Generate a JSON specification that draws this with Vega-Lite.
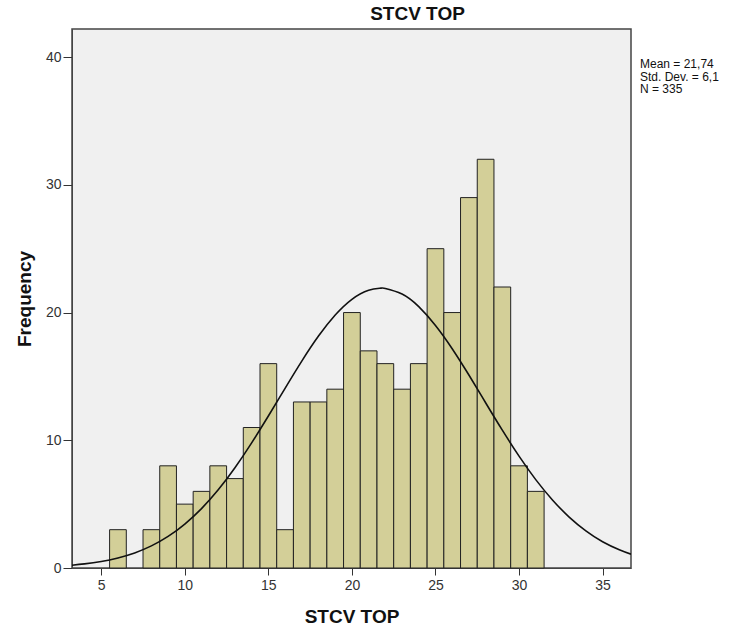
{
  "$schema": "https://vega.github.io/schema/vega-lite/v6.json",
  "width": 559,
  "height": 539,
  "autosize": "none",
  "padding": {"left": 72, "top": 29, "right": 108, "bottom": 63},
  "background": "white",
  "config": {
    "font": "Liberation Sans",
    "view": {"fill": "#F0F0F0", "stroke": "#444444", "strokeWidth": 1.5},
    "axis": {"grid": false, "labelFont": "Liberation Sans", "titleFont": "Liberation Sans", "labelColor": "#333333", "titleColor": "#111111", "tickColor": "#333333", "domainColor": "#444444", "labelFontSize": 14, "titleFontSize": 19, "titleFontWeight": "bold"}
  },
  "title": {"text": "STCV TOP", "fontSize": 19, "fontWeight": "bold", "font": "Liberation Sans", "color": "#111111", "dx": 66, "offset": 5},
  "datasets": {
    "bins": [
      {"value": 6, "start": 5.5, "end": 6.5, "count": 3},
      {"value": 8, "start": 7.5, "end": 8.5, "count": 3},
      {"value": 9, "start": 8.5, "end": 9.5, "count": 8},
      {"value": 10, "start": 9.5, "end": 10.5, "count": 5},
      {"value": 11, "start": 10.5, "end": 11.5, "count": 6},
      {"value": 12, "start": 11.5, "end": 12.5, "count": 8},
      {"value": 13, "start": 12.5, "end": 13.5, "count": 7},
      {"value": 14, "start": 13.5, "end": 14.5, "count": 11},
      {"value": 15, "start": 14.5, "end": 15.5, "count": 16},
      {"value": 16, "start": 15.5, "end": 16.5, "count": 3},
      {"value": 17, "start": 16.5, "end": 17.5, "count": 13},
      {"value": 18, "start": 17.5, "end": 18.5, "count": 13},
      {"value": 19, "start": 18.5, "end": 19.5, "count": 14},
      {"value": 20, "start": 19.5, "end": 20.5, "count": 20},
      {"value": 21, "start": 20.5, "end": 21.5, "count": 17},
      {"value": 22, "start": 21.5, "end": 22.5, "count": 16},
      {"value": 23, "start": 22.5, "end": 23.5, "count": 14},
      {"value": 24, "start": 23.5, "end": 24.5, "count": 16},
      {"value": 25, "start": 24.5, "end": 25.5, "count": 25},
      {"value": 26, "start": 25.5, "end": 26.5, "count": 20},
      {"value": 27, "start": 26.5, "end": 27.5, "count": 29},
      {"value": 28, "start": 27.5, "end": 28.5, "count": 32},
      {"value": 29, "start": 28.5, "end": 29.5, "count": 22},
      {"value": 30, "start": 29.5, "end": 30.5, "count": 8},
      {"value": 31, "start": 30.5, "end": 31.5, "count": 6}
    ],
    "curve": [
      {"x": 3.25, "y": 0.22}, {"x": 4, "y": 0.32}, {"x": 5, "y": 0.51}, {"x": 6, "y": 0.79},
      {"x": 7, "y": 1.18}, {"x": 8, "y": 1.73}, {"x": 9, "y": 2.47}, {"x": 10, "y": 3.44},
      {"x": 11, "y": 4.65}, {"x": 12, "y": 6.12}, {"x": 13, "y": 7.85}, {"x": 14, "y": 9.80},
      {"x": 15, "y": 11.90}, {"x": 16, "y": 14.07}, {"x": 17, "y": 16.20}, {"x": 18, "y": 18.16},
      {"x": 19, "y": 19.81}, {"x": 20, "y": 21.04}, {"x": 21, "y": 21.75}, {"x": 21.74, "y": 21.91},
      {"x": 22, "y": 21.89}, {"x": 23, "y": 21.45}, {"x": 24, "y": 20.46}, {"x": 25, "y": 18.99},
      {"x": 26, "y": 17.17}, {"x": 27, "y": 15.11}, {"x": 28, "y": 12.94}, {"x": 29, "y": 10.79},
      {"x": 30, "y": 8.76}, {"x": 31, "y": 6.92}, {"x": 32, "y": 5.33}, {"x": 33, "y": 3.99},
      {"x": 34, "y": 2.91}, {"x": 35, "y": 2.06}, {"x": 36, "y": 1.43}, {"x": 36.7, "y": 1.08}
    ],
    "stats": [
      {"label": ["Mean = 21,74", "Std. Dev. = 6,1", "N = 335"], "x": 36.7, "y": 39.45}
    ]
  },
  "layer": [
    {
      "data": {"name": "bins"},
      "mark": {"type": "rect", "fill": "#D3CF98", "stroke": "#222222", "strokeWidth": 1},
      "encoding": {
        "x": {"field": "start", "type": "quantitative", "scale": {"domain": [3.25, 36.7], "nice": false, "zero": false},
              "axis": {"values": [5, 10, 15, 20, 25, 30, 35], "title": "STCV TOP", "titlePadding": 15, "labelPadding": 3, "tickSize": 7}},
        "x2": {"field": "end"},
        "y": {"field": "count", "type": "quantitative", "scale": {"domain": [0, 42.2], "nice": false},
              "axis": {"values": [0, 10, 20, 30, 40], "title": "Frequency", "titlePadding": 11, "labelPadding": 2, "tickSize": 9}},
        "y2": {"datum": 0}
      }
    },
    {
      "data": {"name": "curve"},
      "mark": {"type": "line", "color": "#111111", "strokeWidth": 1.6, "interpolate": "natural", "clip": true},
      "encoding": {
        "x": {"field": "x", "type": "quantitative"},
        "y": {"field": "y", "type": "quantitative"}
      }
    },
    {
      "data": {"name": "stats"},
      "mark": {"type": "text", "align": "left", "baseline": "middle", "dx": 9, "fontSize": 12, "lineHeight": 12.5, "color": "#111111", "font": "Liberation Sans", "clip": false},
      "encoding": {
        "x": {"field": "x", "type": "quantitative"},
        "y": {"field": "y", "type": "quantitative"},
        "text": {"field": "label"}
      }
    }
  ]
}
